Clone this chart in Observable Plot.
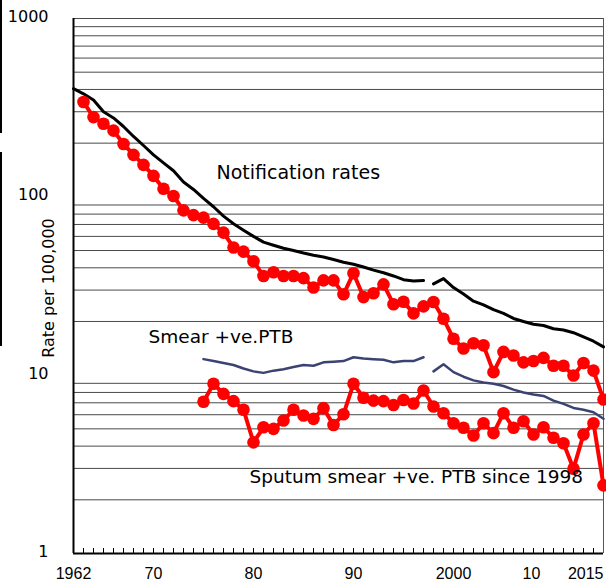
<!DOCTYPE html>
<html><head><meta charset="utf-8">
<script src="https://cdn.jsdelivr.net/npm/d3@7"></script>
<script src="https://cdn.jsdelivr.net/npm/@observablehq/plot@0.6"></script>
<style>
body{margin:0;background:#fff;}
#wrap{position:relative;width:606px;height:582px;}
.bar{position:absolute;left:0;width:2px;background:#000;}
</style></head><body>
<div id="wrap"></div>
<script>
// ---- data ----
const notifStart1 = 1962; // all-forms notification rate, segment 1
const notif1 = [404, 378, 349, 300, 277, 248, 218, 194, 172, 155, 140, 121, 110, 98, 88, 78, 70.6, 65, 60, 55.7, 53.5, 51.5, 50, 48.4, 47, 46, 44.5, 43, 41.9, 40.4, 38.8, 37.5, 36, 34.3, 33.7, 33.9];
const notifStart2 = 1998; // segment 2
const notif2 = [32.5, 34.8, 31.0, 28.5, 26.0, 24.8, 23.3, 22.2, 20.8, 20.0, 19.3, 19.0, 18.2, 17.9, 17.3, 16.4, 15.5, 14.4];
const ptbStart = 1963; // red dots, upper series
const ptb = [340, 280, 257, 235, 198, 172, 151, 131, 111, 101, 84, 79, 76.5, 70.5, 63, 52, 49.3, 43.5, 36, 37.8, 36, 36, 35, 31, 34, 34, 28.4, 37.3, 27.4, 28.8, 32.3, 25, 25.8, 22.2, 24.3, 25.7, 20.7, 16, 14.1, 15.1, 14.7, 10.4, 13.5, 12.9, 11.8, 12, 12.5, 11.3, 11.3, 9.95, 11.7, 10.6, 7.3];
const smearStart1 = 1975; // blue line, segment 1
const smear1 = [12.3, 12.0, 11.7, 11.4, 10.9, 10.5, 10.3, 10.6, 10.8, 11.1, 11.4, 11.3, 11.8, 11.9, 12.0, 12.6, 12.4, 12.3, 12.2, 11.8, 12.0, 12.0, 12.6];
const smearStart2 = 1998; // blue line, segment 2
const smear2 = [10.5, 11.5, 10.4, 9.8, 9.35, 9.1, 8.95, 8.7, 8.3, 8.0, 7.8, 7.65, 7.2, 6.9, 6.55, 6.4, 6.2, 5.7];
const sputumStart = 1975; // red dots, lower series
const sputum = [7.1, 8.95, 7.85, 7.15, 6.4, 4.2, 5.1, 5.0, 5.57, 6.4, 5.94, 5.69, 6.53, 5.25, 6.04, 8.95, 7.47, 7.2, 7.15, 6.8, 7.25, 6.94, 8.2, 6.67, 6.12, 5.38, 5.07, 4.59, 5.38, 4.73, 6.12, 5.07, 5.52, 4.65, 5.1, 4.46, 4.15, 2.99, 4.65, 5.38, 2.41];

const xTickYears = [1962, 1970, 1980, 1990, 2000, 2010, 2015];
const xTickLabels = ["1962", "70", "80", "90", "2000", "10", "2015"];
const yTicks = [1, 10, 100, 1000];
const annotations = [
  {text: "Notification rates", year: 1976.3, rate: 137},
  {text: "Smear +ve.PTB", year: 1969.5, rate: 16.3},
  {text: "Sputum smear +ve. PTB since 1998", year: 1979.6, rate: 2.67}
];

// ---- build tables ----
const toRows = (start, vals, seg) => vals.map((v, i) => ({year: start + i, value: v, seg}));
const notifRows = [...toRows(notifStart1, notif1, "a"), ...toRows(notifStart2, notif2, "b")];
const smearRows = [...toRows(smearStart1, smear1, "a"), ...toRows(smearStart2, smear2, "b")];
const ptbRows = toRows(ptbStart, ptb, "a");
const sputumRows = toRows(sputumStart, sputum, "a");
const gridVals = [];
for (const d of [1, 10, 100]) for (let k = 2; k <= 9; k++) gridVals.push(k * d);
gridVals.push(1000);
const minorYears = d3.range(xTickYears[0] + 1, xTickYears[xTickYears.length - 1]);
const labelOf = y => xTickLabels[xTickYears.indexOf(y)];

const chart = Plot.plot({
  width: 606, height: 582,
  marginLeft: 73, marginRight: 3, marginTop: 18, marginBottom: 29,
  style: {fontFamily: "DejaVu Sans", background: "#fff", color: "#000"},
  x: {domain: [1962, 2015], axis: null},
  y: {type: "log", domain: [1, 1000], axis: null},
  marks: [
    Plot.ruleY(gridVals, {stroke: "#4a4a4a", strokeWidth: 1}),
    Plot.ruleX([2015], {stroke: "#555", strokeWidth: 1}),
    Plot.tickX(minorYears, {x: d => d, stroke: "#000", strokeWidth: 1, insetTop: 530}),
    Plot.ruleX([1962], {stroke: "#000", strokeWidth: 2}),
    Plot.ruleY([1], {stroke: "#000", strokeWidth: 2}),
    Plot.axisY({ticks: yTicks, tickFormat: d => String(d), tickSize: 0, tickPadding: 25, fontSize: 16, fontFamily: "DejaVu Sans", dy: -1.5, label: null}),
    Plot.axisX({ticks: xTickYears.filter(y => y < 2010), tickFormat: labelOf, tickSize: 0, tickPadding: 14, fontSize: 16, fontFamily: "Liberation Sans", label: null}),
    Plot.axisX({ticks: [2010], tickFormat: labelOf, tickSize: 0, tickPadding: 14, fontSize: 16, fontFamily: "Liberation Sans", dx: -22, label: null}),
    Plot.axisX({ticks: [2015], tickFormat: labelOf, tickSize: 0, tickPadding: 14, fontSize: 16, fontFamily: "Liberation Sans", textAnchor: "end", label: null}),
    Plot.text(["Rate per 100,000"], {frameAnchor: "left", textAnchor: "middle", rotate: -90, dx: -24.5, dy: 2, fontSize: 16, fontFamily: "DejaVu Sans", fill: "#000"}),
    Plot.line(notifRows, {x: "year", y: "value", z: "seg", stroke: "#000", strokeWidth: 3}),
    Plot.line(smearRows, {x: "year", y: "value", z: "seg", stroke: "#3c4372", strokeWidth: 2.5}),
    Plot.line(ptbRows, {x: "year", y: "value", stroke: "#ff0000", strokeWidth: 4}),
    Plot.dot(ptbRows, {x: "year", y: "value", r: 6.3, fill: "#ff0000"}),
    Plot.line(sputumRows, {x: "year", y: "value", stroke: "#ff0000", strokeWidth: 4}),
    Plot.dot(sputumRows, {x: "year", y: "value", r: 6.3, fill: "#ff0000"}),
    Plot.text(annotations.slice(0, 1), {x: "year", y: "rate", text: "text", textAnchor: "start", fontSize: 19, fill: "#000"}),
    Plot.text(annotations.slice(1), {x: "year", y: "rate", text: "text", textAnchor: "start", fontSize: 18.5, fill: "#000"})
  ]
});
const wrap = document.getElementById("wrap");
wrap.appendChild(chart);
for (const [t, h] of [[0, 133], [152, 194]]) {
  const b = document.createElement("div");
  b.className = "bar"; b.style.top = t + "px"; b.style.height = h + "px";
  wrap.appendChild(b);
}
</script>
</body></html>
